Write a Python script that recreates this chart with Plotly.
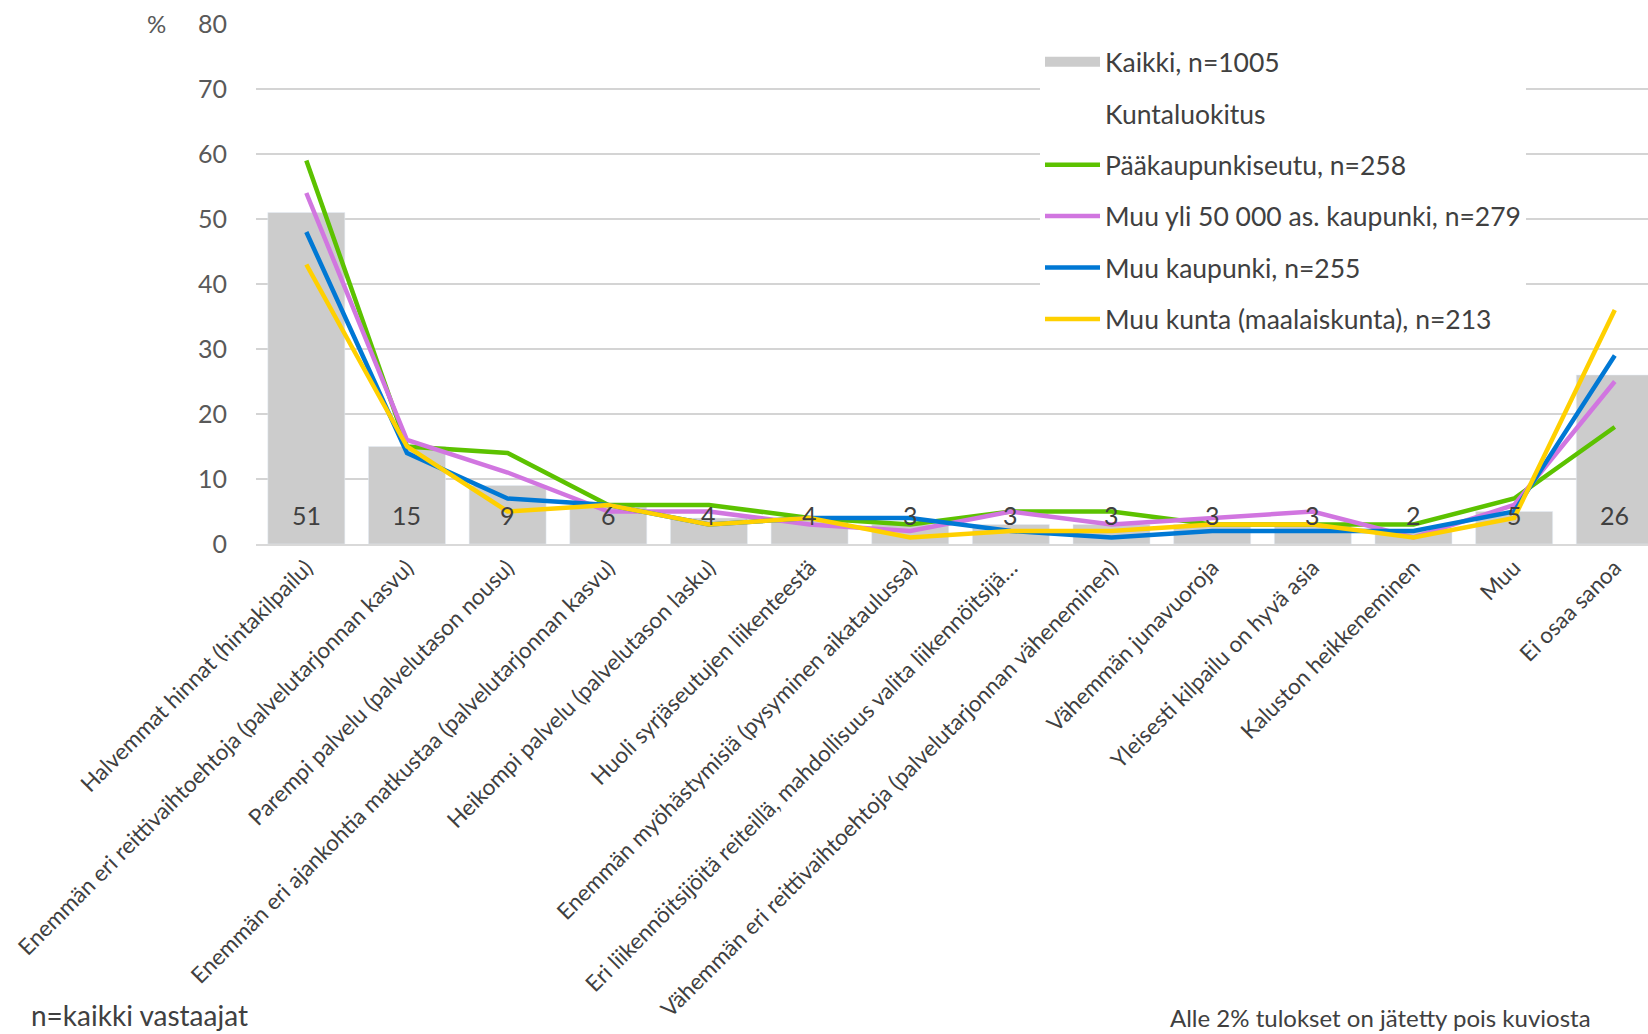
import plotly.graph_objects as go

categories = [
    "Halvemmat hinnat (hintakilpailu)",
    "Enemmän eri reittivaihtoehtoja (palvelutarjonnan kasvu)",
    "Parempi palvelu (palvelutason nousu)",
    "Enemmän eri ajankohtia matkustaa (palvelutarjonnan kasvu)",
    "Heikompi palvelu (palvelutason lasku)",
    "Huoli syrjäseutujen liikenteestä",
    "Enemmän myöhästymisiä (pysyminen aikataulussa)",
    "Eri liikennöitsijöitä reiteillä, mahdollisuus valita liikennöitsijä…",
    "Vähemmän eri reittivaihtoehtoja (palvelutarjonnan väheneminen)",
    "Vähemmän junavuoroja",
    "Yleisesti kilpailu on hyvä asia",
    "Kaluston heikkeneminen",
    "Muu",
    "Ei osaa sanoa",
]
kaikki = [51, 15, 9, 6, 4, 4, 3, 3, 3, 3, 3, 2, 5, 26]
paakaupunkiseutu = [59, 15, 14, 6, 6, 4, 3, 5, 5, 3, 3, 3, 7, 18]
yli50000 = [54, 16, 11, 5, 5, 3, 2, 5, 3, 4, 5, 1, 6, 25]
muu_kaupunki = [48, 14, 7, 6, 3, 4, 4, 2, 1, 2, 2, 2, 5, 29]
muu_kunta = [43, 15, 5, 6, 3, 4, 1, 2, 2, 3, 3, 1, 4, 36]
y_ticks = [0, 10, 20, 30, 40, 50, 60, 70, 80]

names = ["Kaikki, n=1005", "Kuntaluokitus", "Pääkaupunkiseutu, n=258",
         "Muu yli 50 000 as. kaupunki, n=279", "Muu kaupunki, n=255",
         "Muu kunta (maalaiskunta), n=213"]

FONT = "Lato"
W, H = 1648, 1034
L, R, T, B = 256, 0, 24, 490
PW, PH = W - L - R, H - T - B


def px(x):
    return (x - L) / PW


def py(y):
    return (H - B - y) / PH


fig = go.Figure()
fig.add_trace(go.Bar(x=categories, y=kaikki, marker_color="#CCCCCC",
                     showlegend=False, hoverinfo="skip"))
# legend entries
fig.add_trace(go.Scatter(x=[None], y=[None], mode="lines", name=names[0],
                         line=dict(color="#CCCCCC", width=15), legendgroup="a"))
fig.add_trace(go.Scatter(x=[None], y=[None], mode="lines", name=names[1],
                         line=dict(color="rgba(0,0,0,0)", width=1), legendgroup="b"))

series = [paakaupunkiseutu, yli50000, muu_kaupunki, muu_kunta]
colors = ["#5CC200", "#D176E0", "#0078D4", "#FFD000"]
for i, (vals, col) in enumerate(zip(series, colors)):
    fig.add_trace(go.Scatter(x=categories, y=vals, mode="lines", name=names[i + 2],
                             line=dict(color=col, width=4.5), legendgroup="g%d" % i))

for cat, v in zip(categories, kaikki):
    fig.add_annotation(x=cat, y=0, yshift=29, text=str(v), showarrow=False,
                       font=dict(family=FONT, size=25, color="#404040"))

fig.add_annotation(xref="paper", yref="paper", x=px(156), y=py(23), text="%",
                   xanchor="center", yanchor="middle",
                   showarrow=False, font=dict(family=FONT, size=24, color="#595959"))
fig.add_annotation(xref="paper", yref="paper", x=px(29), y=py(1015), xanchor="left",
                   yanchor="middle",
                   text="n=kaikki vastaajat", showarrow=False,
                   font=dict(family=FONT, size=28, color="#404040"))
fig.add_annotation(xref="paper", yref="paper", x=px(1380), y=py(1018),
                   xanchor="center", yanchor="middle",
                   text="Alle 2% tulokset on jätetty pois kuviosta", showarrow=False,
                   font=dict(family=FONT, size=24, color="#404040"))

fig.update_layout(
    width=W, height=H,
    margin=dict(l=L, r=R, t=T, b=B, autoexpand=False),
    paper_bgcolor="white", plot_bgcolor="white",
    bargap=0.235,
    font=dict(family=FONT, color="#404040"),
    legend=dict(x=px(1040), y=py(38), xanchor="left", yanchor="top",
                bgcolor="white", font=dict(family=FONT, size=26.5, color="#404040"),
                tracegroupgap=14, traceorder="grouped", itemwidth=55),
    xaxis=dict(type="category", range=[-0.5, 13.33], tickangle=-45,
               tickfont=dict(family=FONT, size=22.5, color="#404040"),
               showgrid=False, showline=True, linecolor="#D9D9D9", linewidth=1.5,
               ticks=""),
    yaxis=dict(range=[0, 80], tickvals=y_ticks, showgrid=True, gridcolor="#D4D4D4",
               gridwidth=1.5, zeroline=False, showline=False,
               tickfont=dict(family=FONT, size=25, color="#595959"),
               ticklabelstandoff=28),
    hovermode=False,
)

fig.write_html("out.html", config={"displayModeBar": False},
               post_script="document.body.style.margin='0';document.body.style.overflow='hidden';")
